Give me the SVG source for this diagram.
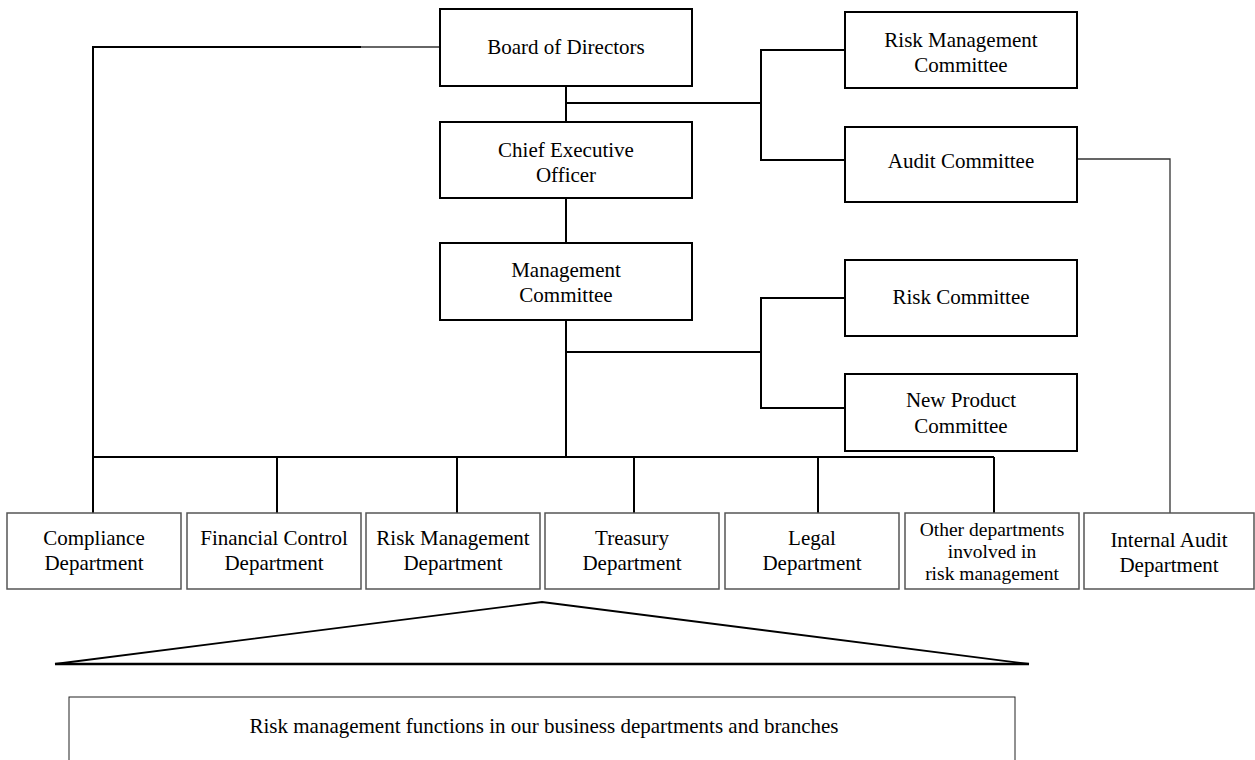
<svg xmlns="http://www.w3.org/2000/svg" width="1255" height="760" viewBox="0 0 1255 760">
<style>
  .box { fill: #fff; stroke: #000; stroke-width: 2; }
  .dept { fill: #fff; stroke: #555; stroke-width: 1.5; }
  .thin { fill: #fff; stroke: #222; stroke-width: 1; }
  .con { fill: none; stroke: #000; stroke-width: 2; }
  .con2 { fill: none; stroke: #333; stroke-width: 1.3; }
  text { font-family: "Liberation Serif", "Times New Roman", serif; font-size: 21px; fill: #000; text-anchor: middle; }
  .tight { font-size: 19.5px; }
</style>
<g id="connectors">
  <polyline class="con" points="361,47 93,47 93,513"/>
  <line class="con2" x1="361" y1="47" x2="440" y2="47"/>
  <line class="con" x1="566" y1="86" x2="566" y2="122"/>
  <line class="con" x1="566" y1="103" x2="761" y2="103"/>
  <polyline class="con" points="845,50 761,50 761,160 845,160"/>
  <polyline class="con2" points="1077,159 1170,159 1170,513"/>
  <line class="con" x1="566" y1="198" x2="566" y2="243"/>
  <line class="con" x1="566" y1="320" x2="566" y2="457"/>
  <line class="con" x1="566" y1="352" x2="761" y2="352"/>
  <polyline class="con" points="845,298 761,298 761,408 845,408"/>
  <line class="con" x1="93" y1="457" x2="994" y2="457"/>
  <line class="con" x1="277" y1="457" x2="277" y2="513"/>
  <line class="con" x1="457" y1="457" x2="457" y2="513"/>
  <line class="con" x1="634" y1="457" x2="634" y2="513"/>
  <line class="con" x1="818" y1="457" x2="818" y2="513"/>
  <line class="con" x1="994" y1="457" x2="994" y2="513"/>
</g>
<g id="board"><rect class="box" x="440" y="9" width="252" height="77"/><text x="566" y="54">Board of Directors</text></g>
<g id="ceo"><rect class="box" x="440" y="122" width="252" height="76"/><text x="566" y="157">Chief Executive</text><text x="566" y="182">Officer</text></g>
<g id="mc"><rect class="box" x="440" y="243" width="252" height="77"/><text x="566" y="277">Management</text><text x="566" y="302">Committee</text></g>
<g id="rmc"><rect class="box" x="845" y="12" width="232" height="76"/><text x="961" y="47">Risk Management</text><text x="961" y="72">Committee</text></g>
<g id="audit"><rect class="box" x="845" y="127" width="232" height="75"/><text x="961" y="168">Audit Committee</text></g>
<g id="riskc"><rect class="box" x="845" y="260" width="232" height="76"/><text x="961" y="304">Risk Committee</text></g>
<g id="npc"><rect class="box" x="845" y="374" width="232" height="77"/><text x="961" y="407">New Product</text><text x="961" y="433">Committee</text></g>
<g id="compliance"><rect class="dept" x="7" y="513" width="174" height="76"/><text x="94" y="545">Compliance</text><text x="94" y="570">Department</text></g>
<g id="financial"><rect class="dept" x="187" y="513" width="174" height="76"/><text x="274" y="545">Financial Control</text><text x="274" y="570">Department</text></g>
<g id="riskdept"><rect class="dept" x="366" y="513" width="174" height="76"/><text x="453" y="545">Risk Management</text><text x="453" y="570">Department</text></g>
<g id="treasury"><rect class="dept" x="545" y="513" width="174" height="76"/><text x="632" y="545">Treasury</text><text x="632" y="570">Department</text></g>
<g id="legal"><rect class="dept" x="725" y="513" width="174" height="76"/><text x="812" y="545">Legal</text><text x="812" y="570">Department</text></g>
<g id="other"><rect class="dept" x="905" y="513" width="174" height="76"/><text class="tight" x="992" y="536">Other departments</text><text class="tight" x="992" y="558">involved in</text><text class="tight" x="992" y="580">risk management</text></g>
<g id="internal"><rect class="dept" x="1084" y="513" width="170" height="76"/><text x="1169" y="547">Internal Audit</text><text x="1169" y="572">Department</text></g>
<g id="triangle">
  <polyline fill="none" stroke="#000" stroke-width="1.8" points="55,664 542,602 1029,664"/>
  <line x1="55" y1="664" x2="1029" y2="664" stroke="#000" stroke-width="2.5"/>
</g>
<g id="functions"><rect class="thin" x="69" y="697" width="946" height="80"/><text x="544" y="733">Risk management functions in our business departments and branches</text></g>
</svg>
